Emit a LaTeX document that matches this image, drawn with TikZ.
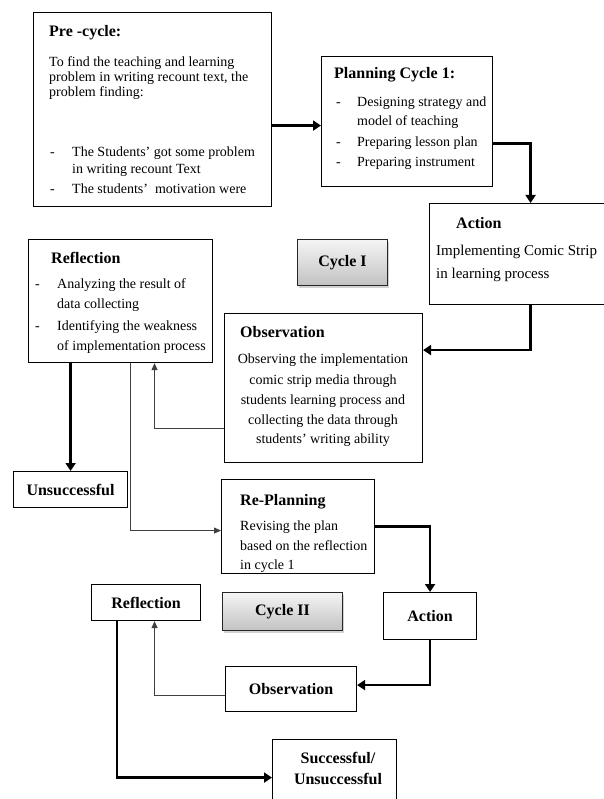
\documentclass[tikz,border=0pt]{standalone}
\usepackage{fontspec}
\setmainfont{Liberation Serif}
\usetikzlibrary{arrows.meta,shadows}

\tikzset{
 box/.style={draw=black, line width=1.1pt, rectangle, inner sep=0pt, anchor=north west},
 txt/.style={anchor=base west, inner sep=0pt, font=\fontsize{14}{16}\selectfont},
 btxt/.style={anchor=base west, inner sep=0pt, font=\fontsize{15}{17}\selectfont},
 ttl/.style={anchor=base west, inner sep=0pt, font=\fontsize{16}{18}\selectfont\bfseries},
 ctxt/.style={anchor=base, inner sep=0pt, font=\fontsize{14}{16}\selectfont},
 cttl/.style={anchor=base, inner sep=0pt, font=\fontsize{16}{18}\selectfont\bfseries},
 boxttl/.style={box, font=\fontsize{16}{18}\selectfont\bfseries, align=center},
 thickarrow/.style={line width=2.4pt, -{Triangle[length=8pt,width=10pt]}},
 thinarrow/.style={line width=1pt, draw=black!75, -{Triangle[length=7pt,width=6pt]}},
 cyclebox/.style={draw=black!85, line width=1pt, top color=black!4, bottom color=black!24,
   drop shadow={opacity=0.35,shadow xshift=1pt,shadow yshift=-2.5pt},
   anchor=north west, inner sep=0pt, font=\fontsize{16}{18}\selectfont\bfseries},
}

\begin{document}
\begin{tikzpicture}[x=1pt,y=-1pt]
\path[fill=white,use as bounding box] (0,0) rectangle (603,799);

% ---------- boxes ----------
\node[box, minimum width=238pt, minimum height=194pt] (pre) at (33,12) {};
\node[box, minimum width=171pt, minimum height=130pt] (plan) at (321,56) {};
\node[box, minimum width=202pt, minimum height=101pt] (act) at (429,203) {};
\node[cyclebox, minimum width=90pt, minimum height=46pt] (cyc1) at (297,239) {Cycle I};
\node[box, minimum width=184pt, minimum height=123pt] (refl) at (28,239) {};
\node[box, minimum width=198pt, minimum height=149pt] (obs) at (224,313) {};
\node[boxttl, minimum width=114pt, minimum height=36pt] (unsucc) at (13,471) {Unsuccessful};
\node[box, minimum width=153pt, minimum height=94pt] (replan) at (221,479) {};
\node[cyclebox, minimum width=120pt, minimum height=38pt] (cyc2) at (222,592) {Cycle II};
\node[boxttl, minimum width=109pt, minimum height=36pt] (refl2) at (91,584) {Reflection};
\node[boxttl, minimum width=93pt, minimum height=47pt] (act2) at (383,592) {Action};
\node[boxttl, minimum width=131pt, minimum height=45pt] (obs2) at (225,666) {Observation};
\node[box, minimum width=124pt, minimum height=76pt] (succ) at (272,739) {};

% ---------- texts ----------
% Pre-cycle
\node[ttl] (preT) at (49,37) {Pre -cycle:};
\node[txt] (preL1) at (49,67) {To find the teaching and learning};
\node[txt] (preL2) at (49,82) {problem in writing recount text, the};
\node[txt] (preL3) at (49,97) {problem finding:};
\node[txt] (preD1) at (50,157) {-};
\node[txt] (preB1) at (72,157) {The Students’ got some problem};
\node[txt] (preB2) at (72,174) {in writing recount Text};
\node[txt] (preD2) at (50,194) {-};
\node[txt] (preB3) at (72,194) {The students’ \ motivation were};

% Planning
\node[ttl] (planT) at (334,79) {Planning Cycle 1:};
\node[txt] (planD1) at (336,107) {-};
\node[txt] (planB1) at (357,107) {Designing strategy and};
\node[txt] (planB2) at (357,126) {model of teaching};
\node[txt] (planD2) at (336,147) {-};
\node[txt] (planB3) at (357,147) {Preparing lesson plan};
\node[txt] (planD3) at (336,167) {-};
\node[txt] (planB4) at (357,167) {Preparing instrument};

% Action
\node[ttl] (actT) at (456,229) {Action};
\node[btxt] (actL1) at (436,256) {Implementing Comic Strip};
\node[btxt] (actL2) at (436,278) {in learning process};

% Reflection
\node[ttl] (reflT) at (51,263) {Reflection};
\node[txt] (reflD1) at (35,288) {-};
\node[txt] (reflB1) at (57,288) {Analyzing the result of};
\node[txt] (reflB2) at (57,308) {data collecting};
\node[txt] (reflD2) at (35,330) {-};
\node[txt] (reflB3) at (57,330) {Identifying the weakness};
\node[txt] (reflB4) at (57,350) {of implementation process};

% Observation
\node[ttl] (obsT) at (240,337) {Observation};
\node[ctxt] (obsL1) at (323,363) {Observing the implementation};
\node[ctxt] (obsL2) at (323,384) {comic strip media through};
\node[ctxt] (obsL3) at (323,404) {students learning process and};
\node[ctxt] (obsL4) at (323,424) {collecting the data through};
\node[ctxt] (obsL5) at (323,443) {students’ writing ability};

% Re-Planning
\node[ttl] (replanT) at (240,505) {Re-Planning};
\node[txt] (replanL1) at (240,530) {Revising the plan};
\node[txt] (replanL2) at (240,550) {based on the reflection};
\node[txt] (replanL3) at (240,569) {in cycle 1};

% Successful
\node[cttl] (succL1) at (338,763) {Successful/};
\node[cttl] (succL2) at (338,784) {Unsuccessful};

% ---------- connectors ----------
\coordinate (p1) at ([yshift=-4pt]plan.west);
\draw[thickarrow] (pre.east |- p1) -- (p1);
\draw[thickarrow] ([yshift=-22pt]plan.east) -| (act.north);
\draw[thickarrow] (act.south) |- ([yshift=38pt]obs.east);
\draw[thinarrow] ([yshift=-40pt]obs.west) -| ([xshift=34pt]refl.south);
\draw[thickarrow] (unsucc.north |- refl.south) -- (unsucc.north);
\draw[thinarrow] ([xshift=10pt]refl.south) |- ([yshift=-4pt]replan.west);
\draw[thickarrow] (replan.east) -| (act2.north);
\draw[thickarrow] (act2.south) |- ([yshift=4pt]obs2.east);
\draw[thinarrow] ([yshift=-6pt]obs2.west) -| ([xshift=8.5pt]refl2.south);
\draw[thickarrow] ([xshift=-29pt]refl2.south) |- (succ.west);
\end{tikzpicture}
\end{document}
